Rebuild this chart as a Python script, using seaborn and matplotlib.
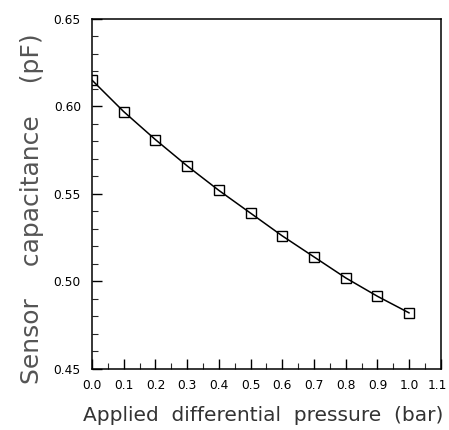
import numpy as np
import pandas as pd
import matplotlib
matplotlib.use("Agg")
import matplotlib.pyplot as plt
import matplotlib.transforms as mtransforms
from matplotlib.ticker import MultipleLocator
import seaborn as sns

# Values
pressure = [0.0, 0.1, 0.2, 0.3, 0.4, 0.5, 0.6, 0.7, 0.8, 0.9, 1.0]
capacitance = [0.615, 0.597, 0.581, 0.566, 0.552, 0.539, 0.526, 0.514, 0.502, 0.4915, 0.482]

x_ticks = [0.0, 0.1, 0.2, 0.3, 0.4, 0.5, 0.6, 0.7, 0.8, 0.9, 1.0, 1.1]
y_ticks = [0.45, 0.50, 0.55, 0.60, 0.65]

df = pd.DataFrame({'pressure': pressure, 'capacitance': capacitance})

sns.set_style("white")
plt.rcParams['font.family'] = ['DejaVu Sans']

fig = plt.figure(figsize=(4.49, 4.30), dpi=100)
ax = fig.add_axes([0.205, 0.142, 0.777, 0.814])

sns.lineplot(data=df, x='pressure', y='capacitance', ax=ax, color='black',
             linewidth=1.1, marker='s', markersize=7, markerfacecolor='none',
             markeredgecolor='black', markeredgewidth=1.0)

ax.set_xlim(0, 1.1)
ax.set_ylim(0.45, 0.65)
ax.set_xticks(x_ticks)
ax.set_xticklabels([f'{t:.1f}' for t in x_ticks])
ax.set_yticks(y_ticks)
ax.set_yticklabels([f'{t:.2f}' for t in y_ticks])
ax.xaxis.set_minor_locator(MultipleLocator(0.05))
ax.yaxis.set_minor_locator(MultipleLocator(0.01))
ax.tick_params(axis='both', which='both', bottom=True, left=True, top=False, right=False)
ax.tick_params(axis='both', which='major', direction='in', length=7, width=1,
               labelsize=8.8, colors='black')
ax.tick_params(axis='y', which='major', pad=8)
ax.tick_params(axis='x', which='major', pad=7)
ax.tick_params(axis='both', which='minor', direction='in', length=4, width=0.8)

# nudge the last x tick label so it stays inside the figure
last = ax.get_xticklabels()[-1]
last.set_transform(last.get_transform() + mtransforms.ScaledTranslation(-4 / 100, 0, fig.dpi_scale_trans))

for side in ['left', 'bottom', 'top', 'right']:
    ax.spines[side].set_visible(True)
    ax.spines[side].set_color('black')
    ax.spines[side].set_linewidth(1.1)

ax.set_xlabel('Applied  differential  pressure  (bar)', fontsize=14.5, color='#333333')
ax.xaxis.set_label_coords(0.491, -0.105)
ax.set_ylabel('Sensor    capacitance    (pF)', fontsize=18, color='#555555')
ax.yaxis.set_label_coords(-0.137, 0.457)

fig.savefig('out.png', dpi=100)
